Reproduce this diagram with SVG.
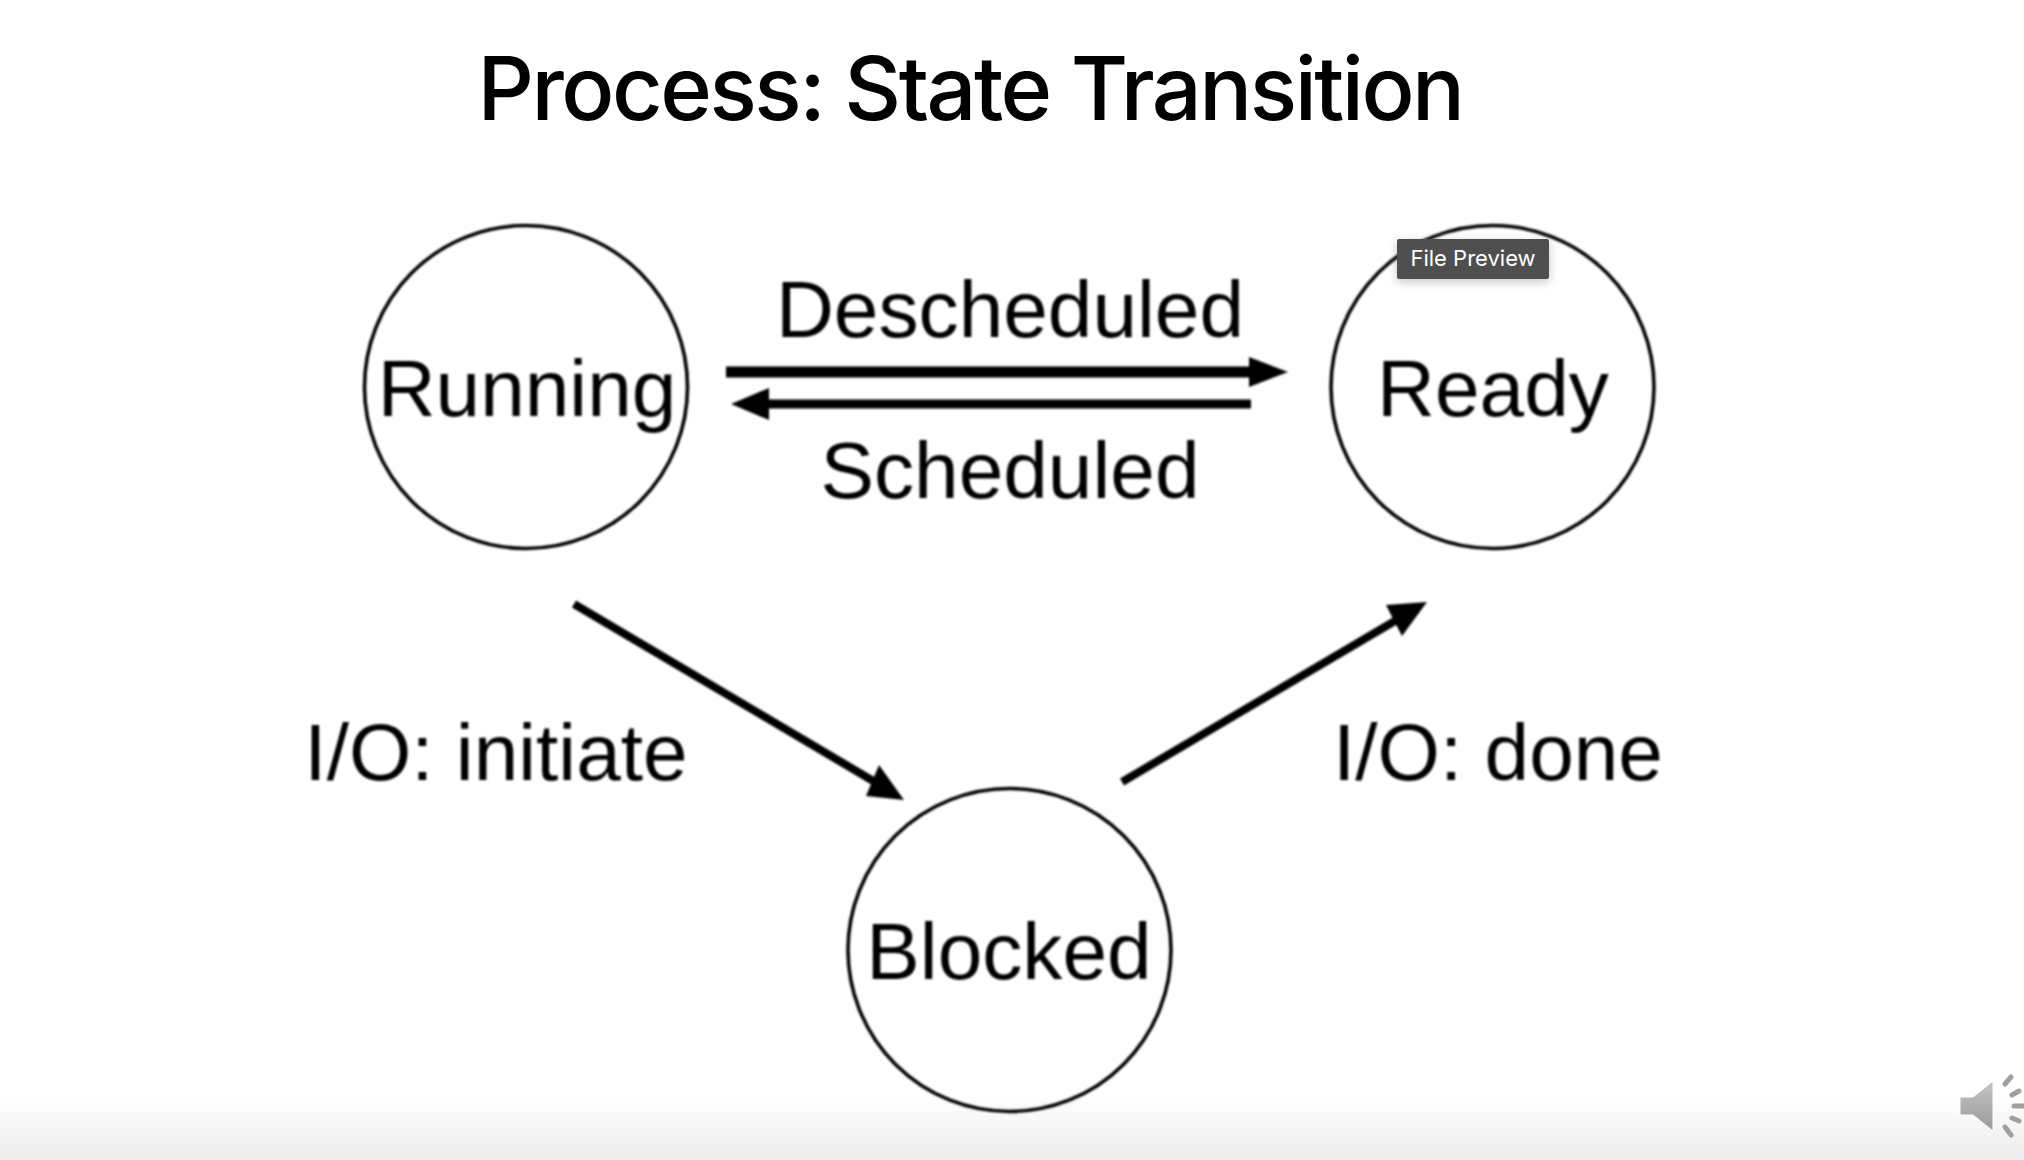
<svg xmlns="http://www.w3.org/2000/svg" width="2024" height="1160" viewBox="0 0 2024 1160">
<style>
.state{fill:none;stroke:#000;stroke-width:3.600}
.lbl{font-family:"Liberation Sans",Arial,sans-serif;font-size:80.200px;fill:#000;text-anchor:middle}
.conn{stroke:#000;fill:none}
.head{fill:#000}
</style>
<defs>
<linearGradient id="bottomFade" x1="0" y1="0" x2="0" y2="1"><stop offset="0" stop-color="#fff"/><stop offset="1" stop-color="#ececec"/></linearGradient>
<linearGradient id="spk" x1="0" y1="0" x2="0" y2="1"><stop offset="0" stop-color="#c4c4c4"/><stop offset="1" stop-color="#9a9a9a"/></linearGradient>
<filter id="soft" x="-5%" y="-5%" width="110%" height="110%"><feGaussianBlur stdDeviation="0.9"/></filter>
<filter id="shadow" x="-20%" y="-40%" width="140%" height="200%"><feDropShadow dx="0" dy="3" stdDeviation="5" flood-color="#000" flood-opacity="0.22"/></filter>
</defs>
<rect width="2024" height="1160" fill="#fff"/>
<rect x="0" y="1095" width="2024" height="65" fill="url(#bottomFade)"/>
<text id="title" x="970" y="120" font-family="Inter,'Liberation Sans',sans-serif" font-size="88" font-weight="500" letter-spacing="-2.500" fill="#000" text-anchor="middle">Process: State Transition</text>
<g filter="url(#soft)">
<g id="connectors">
<path class="conn" stroke-width="11" d="M726 372H1255"/>
<path class="head" d="M1249 357L1288 372L1249 387Z"/>
<path class="conn" stroke-width="9" d="M1251 404H765"/>
<path class="head" d="M769 388L731 404L769 420Z"/>
<path class="conn" stroke-width="8" d="M574 604L880 785"/>
<path class="head" d="M904 800L866 796L879 765Z"/>
<path class="conn" stroke-width="8" d="M1122 782L1405 615"/>
<path class="head" d="M1427 602L1402 636L1386 605Z"/>
</g>
<g id="running"><circle class="state" cx="526" cy="387" r="161.5"/><text class="lbl" x="527" y="415.500">Running</text></g>
<g id="ready"><circle class="state" cx="1492.500" cy="387" r="161.5"/><text class="lbl" x="1493" y="415.500">Ready</text></g>
<g id="blocked"><circle class="state" cx="1009.500" cy="950" r="161.5"/><text class="lbl" x="1009" y="978.500">Blocked</text></g>
<text class="lbl" x="1010" y="336.500">Descheduled</text>
<text class="lbl" x="1010" y="498">Scheduled</text>
<text class="lbl" x="496" y="780">I/O: initiate</text>
<text class="lbl" x="1498" y="780">I/O: done</text>
</g>
<g id="tooltip">
<rect x="1397" y="239" width="152" height="40" rx="2" fill="#505050" filter="url(#shadow)"/>
<text x="1473" y="266" font-family="Inter,Roboto,sans-serif" font-size="22" fill="#fff" text-anchor="middle">File Preview</text>
</g>
<g id="speaker">
<path d="M1960 1097H1973L1993 1081V1131L1973 1115H1960Z" fill="url(#spk)" stroke="#fff" stroke-width="1"/>
<g stroke="#a0a0a0" stroke-width="5" stroke-linecap="round">
<path d="M2005 1084L2011 1077"/><path d="M2012 1095L2019 1091"/><path d="M2014 1106H2023"/><path d="M2012 1118L2019 1121"/><path d="M2005 1127L2011 1135"/>
</g>
</g>
</svg>
